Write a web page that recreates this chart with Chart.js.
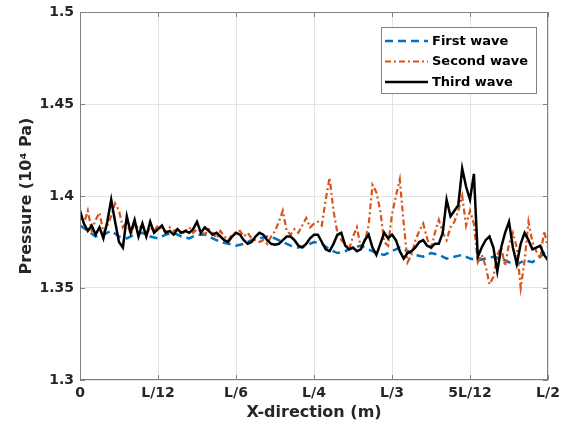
<!DOCTYPE html>
<html>
<head>
<meta charset="utf-8">
<script src="https://cdn.jsdelivr.net/npm/chart.js@4"></script>
<style>
  body { margin: 0; background: #fff; }
</style>
</head>
<body>
<canvas id="waveChart" width="562" height="434"></canvas>
<script>
// tick labels
const xTickLabels = ["0", "L/12", "L/6", "L/4", "L/3", "5L/12", "L/2"];
const yTickLabels = ["1.3", "1.35", "1.4", "1.45", "1.5"];
const seriesNames = ["First wave", "Second wave", "Third wave"];

// first wave, every 0.1 of L/12
const firstWave = [
  1.384, 1.381, 1.378, 1.379, 1.381, 1.378, 1.377, 1.379, 1.380, 1.378,
  1.377, 1.379, 1.380, 1.378, 1.377, 1.379, 1.379, 1.377, 1.375, 1.374,
  1.373, 1.374, 1.376, 1.377, 1.378, 1.377, 1.375, 1.373, 1.372, 1.373,
  1.375, 1.374, 1.371, 1.369, 1.370, 1.372, 1.373, 1.371, 1.369, 1.368,
  1.370, 1.372, 1.370, 1.368, 1.367, 1.369, 1.368, 1.366, 1.367, 1.368,
  1.366, 1.365, 1.366, 1.367, 1.366, 1.364, 1.363, 1.365, 1.364, 1.367,
  1.371
];

// second and third wave, every 0.05 of L/12
const secondWave = [
  1.390, 1.385, 1.392, 1.381, 1.387, 1.391, 1.380, 1.384, 1.389, 1.396, 1.392,
  1.383, 1.386, 1.379, 1.385, 1.382, 1.384, 1.379, 1.383, 1.381, 1.384,
  1.382, 1.380, 1.383, 1.381, 1.382, 1.379, 1.381, 1.383, 1.380, 1.382,
  1.381, 1.379, 1.382, 1.380, 1.377, 1.381, 1.378, 1.376, 1.379, 1.380,
  1.381, 1.378, 1.380, 1.377, 1.376, 1.375, 1.376, 1.374, 1.378, 1.381,
  1.386, 1.392, 1.381, 1.379, 1.382, 1.380, 1.384, 1.388, 1.383, 1.385,
  1.386, 1.384, 1.398, 1.410, 1.392, 1.380, 1.376, 1.374, 1.371, 1.378,
  1.383, 1.372, 1.375, 1.384, 1.406, 1.402, 1.392, 1.375, 1.373, 1.390,
  1.400, 1.409, 1.385, 1.364, 1.368, 1.376, 1.381, 1.385, 1.377, 1.371,
  1.380, 1.387, 1.380, 1.376, 1.383, 1.386, 1.392, 1.400, 1.384, 1.392,
  1.385, 1.364, 1.368, 1.362, 1.352, 1.356, 1.368, 1.372, 1.362, 1.374,
  1.380, 1.372, 1.350, 1.365, 1.386, 1.375, 1.370, 1.366, 1.381, 1.372
];

const thirdWave = [
  1.392, 1.385, 1.381, 1.384, 1.379, 1.383, 1.377, 1.386, 1.398, 1.386, 1.375,
  1.372, 1.389, 1.380, 1.387, 1.378, 1.385, 1.378, 1.386, 1.380, 1.382,
  1.384, 1.380, 1.381, 1.379, 1.382, 1.380, 1.381, 1.380, 1.382, 1.386,
  1.380, 1.383, 1.381, 1.379, 1.380, 1.378, 1.376, 1.375, 1.378, 1.380,
  1.379, 1.376, 1.374, 1.375, 1.378, 1.380, 1.379, 1.376, 1.374, 1.3735,
  1.374, 1.376, 1.378, 1.378, 1.376, 1.373, 1.372, 1.374, 1.377, 1.379,
  1.379, 1.375, 1.371, 1.370, 1.374, 1.379, 1.380, 1.373, 1.371, 1.372,
  1.370, 1.371, 1.376, 1.379, 1.372, 1.368, 1.374, 1.380, 1.377, 1.379,
  1.376, 1.370, 1.366, 1.369, 1.370, 1.372, 1.375, 1.376, 1.373, 1.372,
  1.374, 1.374, 1.380, 1.398, 1.389, 1.392, 1.395, 1.415, 1.405, 1.398,
  1.412, 1.367, 1.372, 1.376, 1.378, 1.372, 1.359, 1.372, 1.380, 1.386,
  1.372, 1.363, 1.374, 1.380, 1.376, 1.371, 1.372, 1.373, 1.368, 1.365
];

const FONT = "'DejaVu Sans', Verdana, sans-serif";
const TEXT = "#262626";

const toPoints = (vals, step) => vals.map((v, i) => ({ x: i * step, y: v }));

// box, inward ticks and legend drawn inside the axes like matlab does
const matlabBox = {
  id: "matlabBox",
  afterDraw(chart) {
    const { ctx, chartArea: a } = chart;
    ctx.save();
    ctx.strokeStyle = "#7f7f7f";
    ctx.lineWidth = 1;
    ctx.strokeRect(a.left + 0.5, a.top + 0.5, a.right - a.left - 1, a.bottom - a.top - 1);
    // inward ticks
    chart.scales.x.ticks.forEach(t => {
      const px = Math.round(chart.scales.x.getPixelForValue(t.value)) + 0.5;
      ctx.beginPath();
      ctx.moveTo(px, a.bottom); ctx.lineTo(px, a.bottom - 5);
      ctx.moveTo(px, a.top); ctx.lineTo(px, a.top + 5);
      ctx.stroke();
    });
    chart.scales.y.ticks.forEach(t => {
      const py = Math.round(chart.scales.y.getPixelForValue(t.value)) + 0.5;
      ctx.beginPath();
      ctx.moveTo(a.left, py); ctx.lineTo(a.left + 5, py);
      ctx.moveTo(a.right, py); ctx.lineTo(a.right - 5, py);
      ctx.stroke();
    });

    // legend
    const lx = a.right - 167, ly = a.top + 15, lw = 155, lh = 66;
    ctx.fillStyle = "#fff";
    ctx.fillRect(lx, ly, lw, lh);
    ctx.strokeStyle = "#7f7f7f";
    ctx.strokeRect(lx + 0.5, ly + 0.5, lw, lh);
    ctx.font = "bold 13px " + FONT;
    ctx.textBaseline = "middle";
    chart.data.datasets.forEach((ds, i) => {
      const y = ly + 14 + i * 20.5;
      ctx.strokeStyle = ds.borderColor;
      ctx.lineWidth = ds.borderWidth;
      ctx.setLineDash(ds.borderDash || []);
      ctx.beginPath();
      ctx.moveTo(lx + 4, y); ctx.lineTo(lx + 47, y);
      ctx.stroke();
      ctx.setLineDash([]);
      ctx.fillStyle = "#000";
      ctx.fillText(ds.label, lx + 51, y + 0.5);
    });
    ctx.restore();
  }
};

new Chart(document.getElementById("waveChart"), {
  type: "line",
  data: {
    datasets: [
      {
        label: seriesNames[0],
        data: toPoints(firstWave, 0.1),
        borderColor: "#0072BD",
        borderWidth: 2.5,
        borderDash: [8, 5],
        order: 3
      },
      {
        label: seriesNames[1],
        data: toPoints(secondWave, 0.05),
        borderColor: "#D95319",
        borderWidth: 2.2,
        borderDash: [6, 3, 2, 3],
        order: 2
      },
      {
        label: seriesNames[2],
        data: toPoints(thirdWave, 0.05),
        borderColor: "#000000",
        borderWidth: 2.5,
        order: 1
      }
    ]
  },
  options: {
    responsive: false,
    animation: false,
    events: [],
    elements: { point: { radius: 0 }, line: { tension: 0, fill: false } },
    layout: { padding: { top: 12, right: 14, left: 0, bottom: 0 } },
    plugins: { legend: { display: false }, tooltip: { enabled: false } },
    scales: {
      x: {
        type: "linear",
        min: 0,
        max: 6,
        afterFit: s => { s.height = 54; s.paddingLeft = 0; s.paddingRight = 0; },
        ticks: {
          stepSize: 1,
          maxRotation: 0,
          padding: 5,
          color: TEXT,
          font: { family: FONT, size: 14, weight: "bold" },
          callback: (v, i) => xTickLabels[i]
        },
        grid: { color: "#e3e3e3", drawTicks: false },
        border: { display: false },
        title: {
          display: true,
          text: "X-direction (m)",
          color: TEXT,
          font: { family: FONT, size: 16, weight: "bold" },
          padding: { top: 0, bottom: 12 }
        }
      },
      y: {
        min: 1.3,
        max: 1.5,
        afterFit: s => { s.width = 80; s.paddingTop = 0; s.paddingBottom = 0; },
        ticks: {
          stepSize: 0.05,
          padding: 6,
          color: TEXT,
          font: { family: FONT, size: 14, weight: "bold" },
          callback: (v, i) => yTickLabels[i]
        },
        grid: { color: "#e3e3e3", drawTicks: false },
        border: { display: false },
        title: {
          display: true,
          text: "Pressure (10\u2074 Pa)",
          color: TEXT,
          font: { family: FONT, size: 16, weight: "bold" },
          padding: { top: 17, bottom: 0 }
        }
      }
    }
  },
  plugins: [matlabBox]
});
</script>
</body>
</html>
